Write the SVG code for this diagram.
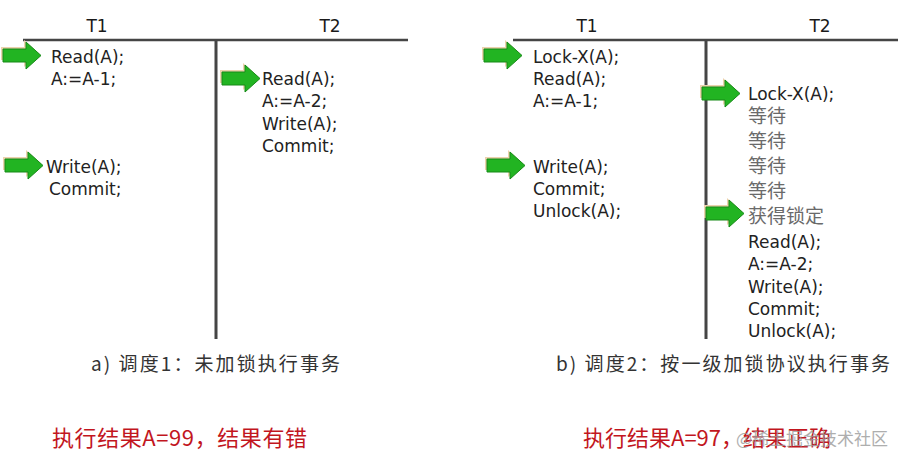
<svg xmlns="http://www.w3.org/2000/svg" width="911" height="463" viewBox="0 0 911 463">
<style>
.h{font-family:"DejaVu Sans","Noto Sans CJK SC",sans-serif;font-size:17px;fill:#1a1a1a}
.c{font-family:"DejaVu Sans","Noto Sans CJK SC",sans-serif;font-size:17px;fill:#222}
.w{font-family:"Noto Sans CJK SC",sans-serif;font-size:19px;fill:#6a6a6a}
.cap{font-family:"Noto Sans CJK SC",sans-serif;font-size:19px;fill:#333}
.res{font-family:"Noto Sans CJK SC",sans-serif;font-size:22px;fill:#c2161e}
.wm{font-family:"Noto Sans CJK SC",sans-serif;font-size:17px;fill:#9a9a9a;opacity:0.8}
.ln{stroke:#454545;fill:none}
</style>
<defs>
<g id="arr">
<path d="M-2,5 H21 V-2 L36,11.5 L21,25 V18 H-2 Z" fill="#ecd2ae"/>
<path d="M0,7 H23 V0 L38,13.5 L23,27 V20 H0 Z" fill="#22b422" stroke="#178a17" stroke-width="1"/>
</g>
</defs>

<g id="connectors">
<line class="ln" x1="23" y1="40" x2="408" y2="40" stroke-width="2.5"/>
<line class="ln" x1="216" y1="40" x2="216" y2="339" stroke-width="3"/>
<line class="ln" x1="513" y1="40" x2="898" y2="40" stroke-width="2.5"/>
<line class="ln" x1="706" y1="40" x2="706" y2="339" stroke-width="3"/>
<use href="#arr" x="3" y="42"/>
<use href="#arr" x="5" y="152"/>
<use href="#arr" x="222" y="65"/>
<use href="#arr" x="484" y="42"/>
<use href="#arr" x="487" y="152"/>
<use href="#arr" x="702" y="80"/>
<use href="#arr" x="706" y="200"/>
</g>

<g id="schedule-a-T1">
<text class="h" x="97" y="32" text-anchor="middle">T1</text>
<text class="c" x="51" y="63">Read(A);</text>
<text class="c" x="51" y="85">A:=A-1;</text>
<text class="c" x="46" y="173">Write(A);</text>
<text class="c" x="49" y="195">Commit;</text>
</g>

<g id="schedule-a-T2">
<text class="h" x="330" y="32" text-anchor="middle">T2</text>
<text class="c" x="262" y="85">Read(A);</text>
<text class="c" x="262" y="107">A:=A-2;</text>
<text class="c" x="262" y="130">Write(A);</text>
<text class="c" x="262" y="152">Commit;</text>
</g>

<g id="schedule-b-T1">
<text class="h" x="587" y="32" text-anchor="middle">T1</text>
<text class="c" x="533" y="63">Lock-X(A);</text>
<text class="c" x="533" y="85">Read(A);</text>
<text class="c" x="533" y="107">A:=A-1;</text>
<text class="c" x="533" y="173">Write(A);</text>
<text class="c" x="533" y="195">Commit;</text>
<text class="c" x="533" y="217">Unlock(A);</text>
</g>

<g id="schedule-b-T2">
<text class="h" x="820" y="32" text-anchor="middle">T2</text>
<text class="c" x="748" y="100">Lock-X(A);</text>
<text class="w" x="748" y="123">等待</text>
<text class="w" x="748" y="148">等待</text>
<text class="w" x="748" y="173">等待</text>
<text class="w" x="748" y="198">等待</text>
<text class="w" x="748" y="223">获得锁定</text>
<text class="c" x="748" y="248">Read(A);</text>
<text class="c" x="748" y="270">A:=A-2;</text>
<text class="c" x="748" y="293">Write(A);</text>
<text class="c" x="748" y="315">Commit;</text>
<text class="c" x="748" y="337">Unlock(A);</text>
</g>

<g id="captions">
<text class="cap" x="91" y="371" textLength="249">a) 调度1：未加锁执行事务</text>
<text class="cap" x="556" y="371" textLength="334">b) 调度2：按一级加锁协议执行事务</text>
</g>

<g id="results">
<text class="res" x="52" y="446" textLength="255">执行结果A=99，结果有错</text>
<text class="res" x="583" y="446">执行结果A=97，结果正确</text>
<text class="wm" x="736" y="445">@稀土掘金技术社区</text>
</g>
</svg>
